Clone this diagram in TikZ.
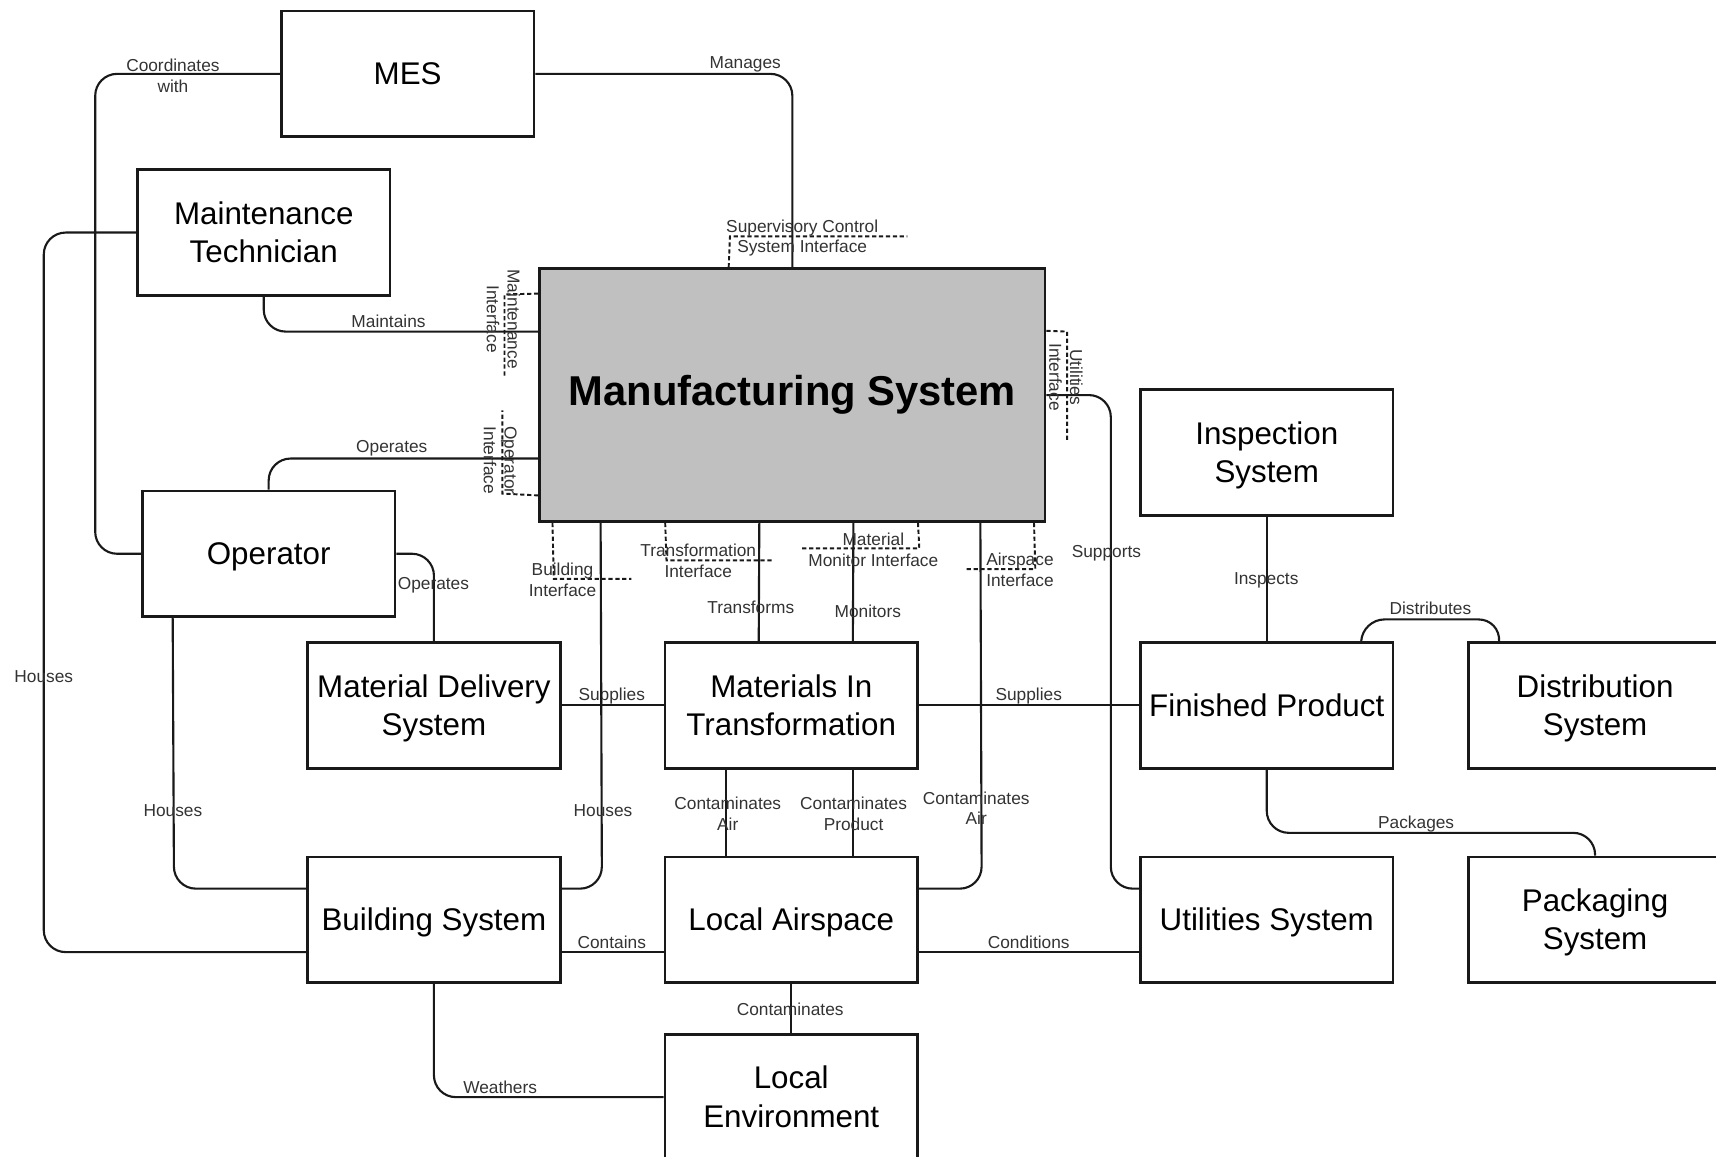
\documentclass[tikz,border=0pt]{standalone}
\usepackage{fontspec}
\setmainfont{Liberation Sans}
\usetikzlibrary{calc}
\definecolor{msgray}{RGB}{192,192,192}
\newcommand\boxstrut{\rule[-0.212em]{0pt}{1.117em}}
\begin{document}
\begin{tikzpicture}[x=0.02cm,y=-0.02cm,
 boxtxt/.style={inner sep=0pt, align=center, font=\fontsize{16.3}{19.8}\selectfont},
 box/.style={draw=black!90, line width=1.4pt, inner sep=0pt,
   minimum width=4.62cm, minimum height=2.3cm, label={[boxtxt]center:{#1}}},
 conn/.style={draw=black!90, line width=1.1pt, rounded corners=0.4cm},
 lbl/.style={font=\fontsize{9}{10.8}\selectfont, text=black!80, align=center, inner sep=0pt, yshift=-0.9pt},
 ifc/.style={draw=black!90, line width=1pt, dash pattern=on 2.2pt off 1.4pt},
]
\useasboundingbox (0,0) rectangle (1568,1057);
\clip (0,0) rectangle (1568,1057);
\fill[white] (0,0) rectangle (1568,1057);

% boxes
\node[box={\boxstrut MES}] (mes) at (372.5,67.5) {};
\node[box={\boxstrut Maintenance\\\boxstrut Technician}] (maint) at (241,212.5) {};
\node[draw=black!90, line width=1.4pt, inner sep=0pt, fill=msgray, minimum width=9.24cm, minimum height=4.62cm,
  font=\fontsize{21.7}{26}\selectfont\bfseries] (manuf) at (724,361) {Manufacturing System};
\node[box={\boxstrut Operator}] (op) at (245.5,506) {};
\node[box={\boxstrut Material Delivery\\\boxstrut System}] (mds) at (396.5,644.5) {};
\node[box={\boxstrut Materials In\\\boxstrut Transformation}] (mit) at (723,644.5) {};
\node[box={\boxstrut Finished Product}] (fp) at (1157.5,644.5) {};
\node[box={\boxstrut Distribution\\\boxstrut System}] (dist) at (1457.5,644.5) {};
\node[box={\boxstrut Inspection\\\boxstrut System}] (insp) at (1157.5,413.5) {};
\node[box={\boxstrut Building System}] (bldg) at (396.5,840.5) {};
\node[box={\boxstrut Local Airspace}] (air) at (723,840.5) {};
\node[box={\boxstrut Utilities System}] (util) at (1157.5,840.5) {};
\node[box={\boxstrut Packaging\\\boxstrut System}] (pack) at (1457.5,840.5) {};
\node[box={\boxstrut Local\\\boxstrut Environment}] (env) at (723,1002.5) {};

% connectors
\draw[conn] (mes.west) -- (87,67.5) -- (87,506) -- (op.west);
\node[lbl] (l1) at (158,68) {Coordinates\\with};

\draw[conn] (mes.east) -- (724,67.5) -- (manuf.north);
\node[lbl] (l2) at (681,57.5) {Manages};

\draw[conn] (maint.west) -- (40,212.5) -- (40,870) -- ($(bldg.west)+(0,29.5)$);
\node[lbl] (l3) at (40,617) {Houses};

\draw[conn] (maint.south) -- (241,303) -- ($(manuf.west)+(0,-58)$);
\node[lbl] (l4) at (355,292) {Maintains};

\draw[conn] (op.north) -- (245.5,419) -- ($(manuf.west)+(0,58)$);
\node[lbl] (l5) at (358,408) {Operates};

\draw[conn] (op.east) -- (396.5,506) -- (mds.north);
\node[lbl] (l6) at (396,533) {Operates};

\draw[conn] ($(op.south west)+(29,0)$) -- (159,812) -- ($(bldg.west)+(0,-28.5)$);
\node[lbl] (l7) at (158,739) {Houses};

\draw[conn] (mds.east) -- (mit.west);
\node[lbl] (l8) at (559,634) {Supplies};

\draw[conn] ($(manuf.south west)+(57,0)$) -- (550,812) -- ($(bldg.east)+(0,-28.5)$);
\node[lbl] (l9) at (551,739) {Houses};

\draw[conn] ($(manuf.south west)+(202,0)$) -- ($(mit.north west)+(87,0)$);
\node[lbl] (l10) at (686,553) {Transforms};

\draw[conn] ($(manuf.south west)+(288,0)$) -- ($(mit.north west)+(173,0)$);
\node[lbl] (l11) at (793,557) {Monitors};

\draw[conn] ($(manuf.south west)+(404,0)$) -- (897,812) -- ($(air.east)+(0,-28.5)$);
\node[lbl] (l12) at (892,737) {Contaminates\\Air};

\draw[conn] (manuf.east) -- (1015,361) -- (1015,812) -- ($(util.west)+(0,-28.5)$);
\node[lbl] (l13) at (1011,504) {Supports};

\draw[conn] (mit.east) -- (fp.west);
\node[lbl] (l14) at (940,634) {Supplies};

\draw[conn] (insp.south) -- (fp.north);
\node[lbl] (l15) at (1157,529) {Inspects};

\draw[conn] ($(fp.north west)+(203,0)$) -- (1245,566) -- (1371,566) -- ($(dist.north west)+(29,0)$);
\node[lbl] (l16) at (1307,554) {Distributes};

\draw[conn] (fp.south) -- (1157.5,761) -- (1457.5,761) -- (pack.north);
\node[lbl] (l17) at (1294,751) {Packages};

\draw[conn] ($(mit.south west)+(57,0)$) -- ($(air.north west)+(57,0)$);
\node[lbl] (l18) at (665,742) {Contaminates\\Air};

\draw[conn] ($(mit.south west)+(173,0)$) -- ($(air.north west)+(173,0)$);
\node[lbl] (l19) at (780,742) {Contaminates\\Product};

\draw[conn] ($(bldg.east)+(0,29.5)$) -- ($(air.west)+(0,29.5)$);
\node[lbl] (l20) at (559,859) {Contains};

\draw[conn] ($(air.east)+(0,29.5)$) -- ($(util.west)+(0,29.5)$);
\node[lbl] (l21) at (940,859) {Conditions};

\draw[conn] (air.south) -- (env.north);
\node[lbl] (l22) at (722,921) {Contaminates};

\draw[conn] (bldg.south) -- (396.5,1002.5) -- (env.west);
\node[lbl] (l23) at (457,992) {Weathers};

% interfaces
\draw[ifc] ($(manuf.north west)+(174,0)$) -- (667,216) -- (829,216);
\node[lbl] (i1) at (733,216) {Supervisory Control\\System Interface};

\draw[ifc] ($(manuf.north west)+(0,24)$) -- (461,269) -- (461,345);
\node[lbl, rotate=-90] (i2) at (460,290) {Maintenance\\Interface};

\draw[ifc] ($(manuf.south west)+(0,-25)$) -- (459,451) -- (459,375);
\node[lbl, rotate=-90] (i3) at (457,419) {Operator\\Interface};

\draw[ifc] ($(manuf.north east)+(0,58)$) -- (975,303) -- (975,402);
\node[lbl, rotate=-90] (i4) at (974,343) {Utilities\\Interface};

\draw[ifc] ($(manuf.south west)+(13,0)$) -- (506,529) -- (577,529);
\node[lbl] (i5) at (514,528) {Building\\Interface};

\draw[ifc] ($(manuf.south west)+(116,0)$) -- (609,512) -- (706,512);
\node[lbl] (i6) at (638,511) {Transformation\\Interface};

\draw[ifc] ($(manuf.south west)+(347,0)$) -- (840,501) -- (733,501);
\node[lbl] (i7) at (798,501) {Material\\Monitor Interface};

\draw[ifc] ($(manuf.south west)+(453,0)$) -- (946,520) -- (881,520);
\node[lbl] (i8) at (932,519) {Airspace\\Interface};
\end{tikzpicture}
\end{document}
